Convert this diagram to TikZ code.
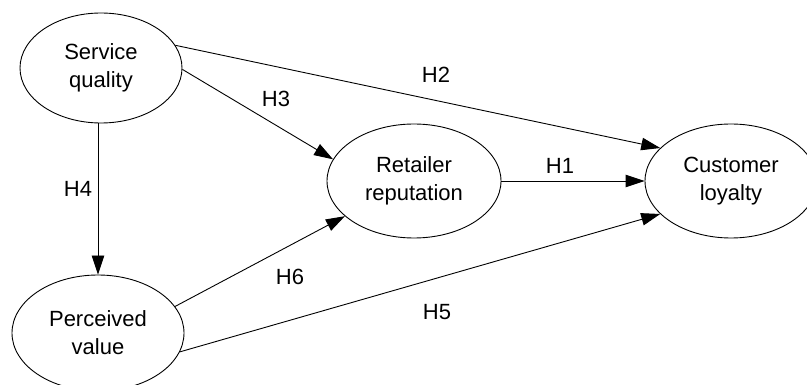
\documentclass[tikz,border=0pt]{standalone}
\usepackage{fontspec}
\setmainfont{Liberation Sans}
\usetikzlibrary{shapes.geometric,arrows.meta}
\tikzset{
  construct/.style={ellipse,draw,line width=0.9pt,inner sep=0pt,align=center,
    font=\fontsize{22}{28}\selectfont},
  hyp/.style={font=\fontsize{22}{28}\selectfont,inner sep=0pt},
  path/.style={draw,line width=0.9pt,-{Triangle[length=19pt,width=12.5pt]}}
}
\begin{document}
\begin{tikzpicture}[x=1pt,y=-1pt]
\useasboundingbox (0,0) rectangle (807,385);
\begin{scope}
\clip (0,0) rectangle (807,385);
\node[construct,minimum width=162pt,minimum height=110pt] (sq) at (101,68) {Service\\quality};
\node[construct,minimum width=174pt,minimum height=114pt] (rr) at (414,181) {Retailer\\reputation};
\node[construct,minimum width=172pt,minimum height=114pt] (cl) at (731,181) {Customer\\loyalty};
\node[construct,minimum width=172pt,minimum height=116pt] (pv) at (98,333) {Perceived\\value};

\draw[path] (sq.17) -- (cl.155);
\draw[path] (sq.-1) -- (rr.165);
\draw[path] (pv.north |- sq.south) -- (pv.north);
\draw[path] (rr.east) -- (cl.west);
\draw[path] (pv.19) -- (rr.207);
\draw[path] (pv.-13) -- (cl.205);

\node[hyp] (h2) at (436,75) {H2};
\node[hyp] (h3) at (276,99) {H3};
\node[hyp] (h4) at (78,189) {H4};
\node[hyp] (h1) at (560,166) {H1};
\node[hyp] (h6) at (290,277) {H6};
\node[hyp] (h5) at (437,312) {H5};
\end{scope}
\end{tikzpicture}
\end{document}
